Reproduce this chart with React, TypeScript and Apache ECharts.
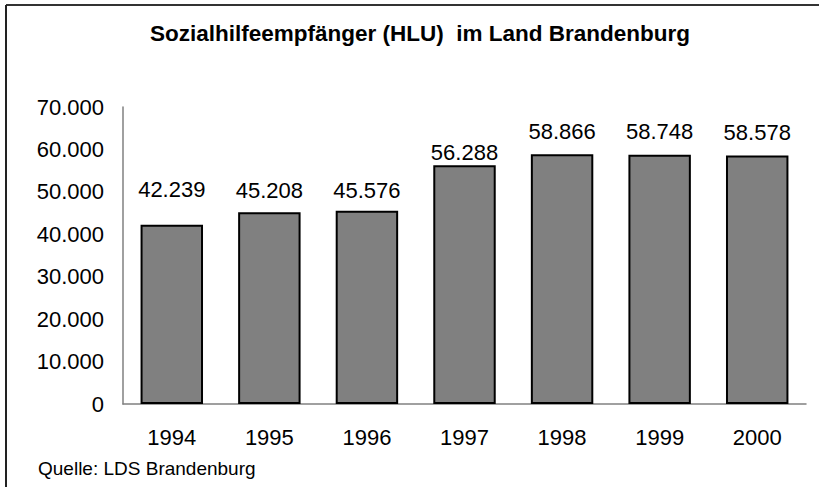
import React, { useEffect, useRef } from "react";
import * as echarts from "echarts";

const years = ["1994", "1995", "1996", "1997", "1998", "1999", "2000"];
const recipients = [42239, 45208, 45576, 56288, 58866, 58748, 58578];
const titleText = "Sozialhilfeempfänger (HLU)  im Land Brandenburg";
const sourceText = "Quelle: LDS Brandenburg";
// vertical nudges of the value labels, as placed in the original
const labelNudge = [-12, 1, 3, 10, 0, 0, 0];

const fmt = (v: number) => {
  const s = Math.round(v).toString();
  return s.replace(/\B(?=(\d{3})+(?!\d))/g, ".");
};

const FONT = "'Liberation Sans', Arial, sans-serif";

export default function App() {
  const ref = useRef<HTMLDivElement>(null);
  useEffect(() => {
    if (!ref.current) return;
    const chart = echarts.init(ref.current, undefined, { renderer: "svg" });
    chart.setOption({
      animation: false,
      backgroundColor: "#fff",
      title: {
        text: titleText,
        left: 145,
        top: 17,
        textStyle: { fontFamily: FONT, fontSize: 22.5, fontWeight: "bold", color: "#000" },
      },
      graphic: [
        { type: "line", shape: { x1: 6, y1: 5, x2: 819, y2: 5 }, style: { stroke: "#333", lineWidth: 2 } },
        { type: "line", shape: { x1: 6, y1: 5, x2: 6, y2: 487 }, style: { stroke: "#222", lineWidth: 2 } },
        {
          type: "text",
          left: 38,
          top: 459,
          style: { text: sourceText, fontFamily: FONT, fontSize: 19, fill: "#000" },
        },
      ],
      grid: { left: 123, right: 13, top: 107, bottom: 83, containLabel: false },
      xAxis: {
        type: "category",
        data: years,
        axisLine: { lineStyle: { color: "#808080", width: 1.5 } },
        axisTick: { show: false },
        axisLabel: { fontFamily: FONT, fontSize: 22, color: "#000", margin: 22 },
      },
      yAxis: {
        type: "value",
        min: 0,
        max: 70000,
        interval: 10000,
        axisLine: { show: true, lineStyle: { color: "#808080", width: 1.5 } },
        axisTick: { show: false },
        splitLine: { show: false },
        axisLabel: { fontFamily: FONT, fontSize: 22, color: "#000", margin: 19, formatter: (v: number) => fmt(v) },
      },
      series: [
        {
          type: "bar",
          data: recipients.map((v, i) => ({ value: v, label: { offset: [0, labelNudge[i]] } })),
          barCategoryGap: "36%",
          itemStyle: { color: "#808080", borderColor: "#000", borderWidth: 2 },
          label: {
            show: true,
            position: "top",
            distance: 12,
            fontFamily: FONT,
            fontSize: 22,
            color: "#000",
            formatter: (p: any) => fmt(p.value),
          },
        },
      ],
    });
    return () => chart.dispose();
  }, []);
  return <div ref={ref} style={{ position: "absolute", left: 0, top: 0, width: 819, height: 487 }} />;
}
